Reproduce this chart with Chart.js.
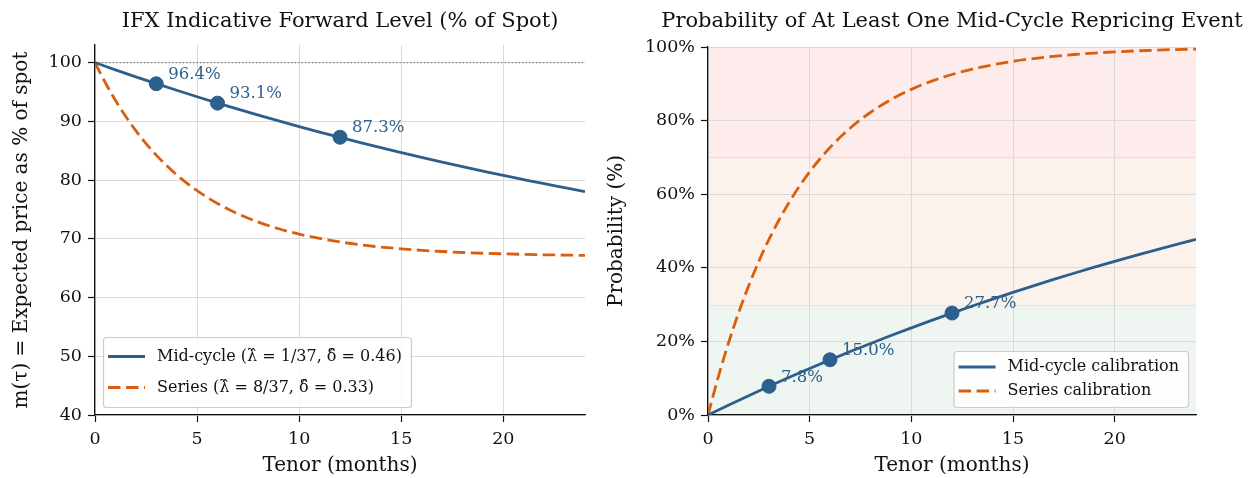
<!DOCTYPE html>
<html>
<head>
<meta charset="utf-8">
<script src="https://cdn.jsdelivr.net/npm/chart.js@4.4.1/dist/chart.umd.min.js"></script>
<style>
  html, body { margin:0; padding:0; background:#fff; }
  #wrap { position:relative; width:1251px; height:478px; }
  .panel { position:absolute; top:0; height:478px; }
  #left { left:0; width:600px; }
  #right { left:600px; width:651px; }
</style>
</head>
<body>
<div id="wrap">
  <div class="panel" id="left"><canvas id="fwdChart" width="600" height="478"></canvas></div>
  <div class="panel" id="right"><canvas id="probChart" width="651" height="478"></canvas></div>
</div>
<script>
// tenor grids (months)
const tenorMid = [0,1,2,3,4,5,6,7,8,9,10,11,12,13,14,15,16,17,18,19,20,21,22,23,24];
const tenorSeries = [0,0.5,1,1.5,2,2.5,3,4,5,6,7,8,9,10,11,12,13,14,15,16,17,18,19,20,21,22,23,24];

// forward level, % of spot
const midFwd = [100,98.77,97.58,96.42,95.29,94.19,93.11,92.07,91.06,90.07,89.11,88.17,87.26,
  86.37,85.51,84.67,83.85,83.05,82.28,81.53,80.79,80.08,79.38,78.71,78.04];
const seriesFwd = [100,96.62,93.58,90.86,88.41,86.22,84.25,80.90,78.19,76.02,74.26,72.85,71.71,
  70.80,70.06,69.46,68.98,68.60,68.29,68.04,67.84,67.67,67.54,67.44,67.35,67.28,67.23,67.18];

// probability of at least one repricing, %
const midProb = [0,2.67,5.26,7.79,10.25,12.64,14.97,17.24,19.44,21.59,23.68,25.72,27.70,
  29.63,31.50,33.33,35.11,36.84,38.52,40.16,41.76,43.31,44.82,46.29,47.73];
const seriesProb = [0,10.25,19.44,27.70,35.11,41.76,47.73,57.89,66.08,72.67,77.99,82.27,85.72,
  88.49,90.73,92.53,93.99,95.15,96.10,96.86,97.47,97.96,98.36,98.68,98.93,99.14,99.31,99.44];

// marked tenors
const markTenor = [3,6,12];
const markFwd = [96.4,93.1,87.3];
const markProb = [7.8,15.0,27.7];

// tick labels
const tenorTicks = [0,5,10,15,20];
const fwdTicks = [40,50,60,70,80,90,100];
const probTicks = [0,20,40,60,80,100];

// risk bands on the probability panel
const bandEdges = [0,30,70,100];
const bandColors = ['#eff5f0','#fcf2ec','#fdeceb'];
const bandLines = ['#ece6df','#f9dcd7'];

const BLUE = '#2c5f8c';
const ORANGE = '#d95f0e';
const FONT = "'DejaVu Serif', serif";
const DASH = [12.5,5.5];

Chart.defaults.font.family = FONT;
Chart.defaults.color = '#111';

const pts = (xs, ys) => xs.map((x,i)=>({x, y: ys[i]}));

const panelTitle = {
  id: 'panelTitle',
  afterDraw(chart, args, opts){
    const {ctx, chartArea:a} = chart;
    ctx.save();
    ctx.font = opts.size + 'px ' + FONT;
    ctx.fillStyle = '#111';
    ctx.textAlign = 'center';
    ctx.textBaseline = 'middle';
    ctx.fillText(opts.text, (a.left + a.right)/2, 22);
    ctx.restore();
  }
};

const bands = {
  id: 'bands',
  beforeDraw(chart, args, opts){
    if (!opts.edges) return;
    const {ctx, chartArea:a, scales:{y}} = chart;
    ctx.save();
    for (let i = 0; i < opts.edges.length - 1; i++){
      const top = y.getPixelForValue(opts.edges[i+1]);
      const bot = y.getPixelForValue(opts.edges[i]);
      ctx.fillStyle = opts.colors[i];
      ctx.fillRect(a.left, top, a.right - a.left, bot - top);
    }
    for (let i = 1; i < opts.edges.length - 1; i++){
      const py = Math.round(y.getPixelForValue(opts.edges[i])) + 0.5;
      ctx.strokeStyle = opts.lines[i-1];
      ctx.lineWidth = 1.5;
      ctx.beginPath(); ctx.moveTo(a.left, py); ctx.lineTo(a.right, py); ctx.stroke();
    }
    ctx.restore();
  }
};

const pointLabels = {
  id: 'pointLabels',
  afterDatasetsDraw(chart, args, opts){
    const {ctx} = chart;
    const meta = chart.getDatasetMeta(0);
    ctx.save();
    ctx.font = opts.size + 'px ' + FONT;
    ctx.fillStyle = BLUE;
    ctx.textBaseline = 'middle';
    meta.data.forEach((p,i)=>{
      ctx.fillText(opts.labels[i], p.x + 12, p.y - 9);
    });
    ctx.restore();
  }
};

const insideLegend = {
  id: 'insideLegend',
  afterDatasetsDraw(chart, args, opts){
    const {ctx, chartArea:a} = chart;
    const items = chart.data.datasets.filter(d=>d.label);
    ctx.save();
    ctx.font = opts.size + 'px ' + FONT;
    const textW = Math.max(...items.map(d=>ctx.measureText(d.label).width));
    const w = 54 + textW + 9;
    const h = 2*opts.pad + items.length*opts.rowH;
    const x = opts.corner === 'left' ? a.left + 8 : a.right - 8 - w;
    const y = a.bottom - 8 - h;
    ctx.fillStyle = 'rgba(255,255,255,0.85)';
    ctx.strokeStyle = '#cccccc';
    ctx.lineWidth = 1.2;
    ctx.beginPath();
    ctx.roundRect(x + 0.5, y + 0.5, w, h, 3);
    ctx.fill();
    ctx.stroke();
    items.forEach((d,i)=>{
      const cy = y + opts.pad + opts.rowH*(i + 0.5);
      ctx.strokeStyle = d.borderColor;
      ctx.lineWidth = d.borderWidth;
      ctx.setLineDash(d.borderDash || []);
      ctx.beginPath(); ctx.moveTo(x + 5, cy); ctx.lineTo(x + 42, cy); ctx.stroke();
      ctx.setLineDash([]);
      ctx.fillStyle = '#111';
      ctx.textBaseline = 'middle';
      ctx.fillText(d.label, x + 54, cy);
    });
    ctx.restore();
  }
};

function axes(yMin, yMax, yTicks, yFmt, yTitle, yWidth, yTitlePad){
  const grid = { color: '#dadada', lineWidth: 1, tickColor: '#111', tickLength: 7, tickWidth: 1.2 };
  return {
    x: {
      type: 'linear', min: 0, max: 24,
      ticks: { font: { size: 17.5 }, color: '#111', padding: 7 },
      afterBuildTicks: s => { s.ticks = tenorTicks.map(v => ({ value: v })); },
      afterFit: s => { s.height = 63; },
      title: { display: true, text: 'Tenor (months)', font: { size: 20 }, color: '#111', padding: { top: 0, bottom: 0 } },
      border: { color: '#111', width: 1.3 },
      grid
    },
    y: {
      type: 'linear', min: yMin, max: yMax,
      ticks: { font: { size: 17.5 }, color: '#111', padding: 6, callback: yFmt },
      afterBuildTicks: s => { s.ticks = yTicks.map(v => ({ value: v })); },
      afterFit: s => { s.width = yWidth; },
      title: { display: true, text: yTitle, font: { size: 20 }, color: '#111', padding: { top: yTitlePad, bottom: 0 } },
      border: { color: '#111', width: 1.3 },
      grid
    }
  };
}

new Chart(document.getElementById('fwdChart'), {
  type: 'line',
  data: {
    datasets: [
      { data: pts(markTenor, markFwd), showLine: false, pointRadius: 7, pointBackgroundColor: BLUE, pointBorderColor: BLUE, borderColor: BLUE },
      { label: 'Mid-cycle (\u03bb\u0302 = 1/37, \u03b4\u0302 = 0.46)', data: pts(tenorMid, midFwd), borderColor: BLUE, borderWidth: 2.8, pointRadius: 0, cubicInterpolationMode: 'monotone' },
      { label: 'Series (\u03bb\u0302 = 8/37, \u03b4\u0302 = 0.33)', data: pts(tenorSeries, seriesFwd), borderColor: ORANGE, borderWidth: 2.8, borderDash: DASH, pointRadius: 0, cubicInterpolationMode: 'monotone' },
      { data: pts([0,24],[100,100]), borderColor: '#8a8a8a', borderWidth: 1.1, borderDash: [1.5,2], pointRadius: 0 }
    ]
  },
  options: {
    responsive: false, animation: false,
    layout: { padding: { top: 45, right: 15, left: 0, bottom: 0 } },
    scales: axes(40, 103, fwdTicks, v => v, 'm(\u03c4) = Expected price as % of spot', 95, 10),
    plugins: {
      legend: { display: false }, tooltip: { enabled: false },
      panelTitle: { text: 'IFX Indicative Forward Level (% of Spot)', size: 21 },
      pointLabels: { labels: markFwd.map(v => v.toFixed(1) + '%'), size: 16.5 },
      insideLegend: { corner: 'left', size: 16, rowH: 31, pad: 4 }
    }
  },
  plugins: [panelTitle, pointLabels, insideLegend]
});

new Chart(document.getElementById('probChart'), {
  type: 'line',
  data: {
    datasets: [
      { data: pts(markTenor, markProb), showLine: false, pointRadius: 7, pointBackgroundColor: BLUE, pointBorderColor: BLUE, borderColor: BLUE },
      { label: 'Mid-cycle calibration', data: pts(tenorMid, midProb), borderColor: BLUE, borderWidth: 2.8, pointRadius: 0, cubicInterpolationMode: 'monotone' },
      { label: 'Series calibration', data: pts(tenorSeries, seriesProb), borderColor: ORANGE, borderWidth: 2.8, borderDash: DASH, pointRadius: 0, cubicInterpolationMode: 'monotone' }
    ]
  },
  options: {
    responsive: false, animation: false,
    layout: { padding: { top: 47, right: 55, left: 0, bottom: 0 } },
    scales: axes(0, 100, probTicks, v => v + '%', 'Probability (%)', 108, 5),
    plugins: {
      legend: { display: false }, tooltip: { enabled: false },
      bands: { edges: bandEdges, colors: bandColors, lines: bandLines },
      panelTitle: { text: 'Probability of At Least One Mid-Cycle Repricing Event', size: 21 },
      pointLabels: { labels: markProb.map(v => v.toFixed(1) + '%'), size: 16.5 },
      insideLegend: { corner: 'right', size: 16, rowH: 24, pad: 4 }
    }
  },
  plugins: [bands, panelTitle, pointLabels, insideLegend]
});
</script>
</body>
</html>
